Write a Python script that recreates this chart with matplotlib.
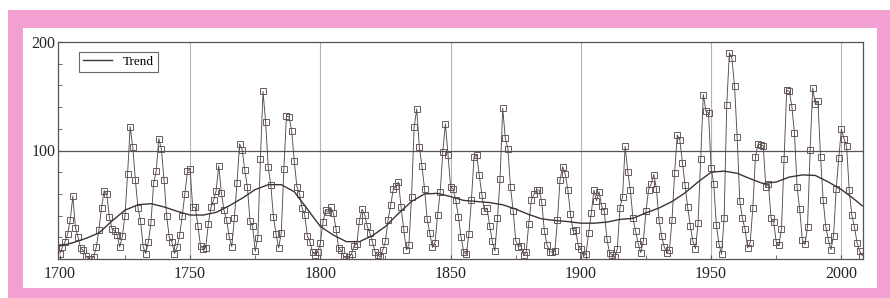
import matplotlib
matplotlib.use("Agg")
from matplotlib import pyplot as plt
from matplotlib.patches import Rectangle
from matplotlib.ticker import MultipleLocator

plt.rcParams['font.family'] = ['Liberation Serif', 'DejaVu Serif']

# yearly sunspot numbers 1700-2008
years = list(range(1700, 2009))
sunspots = [
    5.0, 11.0, 16.0, 23.0, 36.0, 58.0, 29.0, 20.0, 10.0, 8.0,
    3.0, 0.0, 0.0, 2.0, 11.0, 27.0, 47.0, 63.0, 60.0, 39.0,
    28.0, 26.0, 22.0, 11.0, 21.0, 40.0, 78.0, 122.0, 103.0, 73.0,
    47.0, 35.0, 11.0, 5.0, 16.0, 34.0, 70.0, 81.0, 111.0, 101.0,
    73.0, 40.0, 20.0, 16.0, 5.0, 11.0, 22.0, 40.0, 60.0, 80.9,
    83.4, 47.7, 47.8, 30.7, 12.2, 9.6, 10.2, 32.4, 47.6, 54.0,
    62.9, 85.9, 61.2, 45.1, 36.4, 20.9, 11.4, 37.8, 69.8, 106.1,
    100.8, 81.6, 66.5, 34.8, 30.6, 7.0, 19.8, 92.5, 154.4, 125.9,
    84.8, 68.1, 38.5, 22.8, 10.2, 24.1, 82.9, 132.0, 130.9, 118.1,
    89.9, 66.6, 60.0, 46.9, 41.0, 21.3, 16.0, 6.4, 4.1, 6.8,
    14.5, 34.0, 45.0, 43.1, 47.5, 42.2, 28.1, 10.1, 8.1, 2.5,
    0.0, 1.4, 5.0, 12.2, 13.9, 35.4, 45.8, 41.0, 30.1, 23.9,
    15.6, 6.6, 4.0, 1.8, 8.5, 16.6, 36.3, 49.6, 64.2, 67.0,
    70.9, 47.8, 27.5, 8.5, 13.2, 56.9, 121.5, 138.3, 103.2, 85.7,
    64.6, 36.7, 24.2, 10.7, 15.0, 40.1, 61.5, 98.5, 124.7, 96.3,
    66.6, 64.5, 54.1, 39.0, 20.6, 6.7, 4.3, 22.7, 54.8, 93.8,
    95.8, 77.2, 59.1, 44.0, 47.0, 30.5, 16.3, 7.3, 37.6, 74.0,
    139.0, 111.2, 101.6, 66.2, 44.7, 17.0, 11.3, 12.4, 3.4, 6.0,
    32.3, 54.3, 59.7, 63.7, 63.5, 52.2, 25.4, 13.1, 6.8, 6.3,
    7.1, 35.6, 73.0, 85.1, 78.0, 64.0, 41.8, 26.2, 26.7, 12.1,
    9.5, 2.7, 5.0, 24.4, 42.0, 63.5, 53.8, 62.0, 48.5, 43.9,
    18.6, 5.7, 3.6, 1.4, 9.6, 47.4, 57.1, 103.9, 80.6, 63.6,
    37.6, 26.1, 14.2, 5.8, 16.7, 44.3, 63.9, 69.0, 77.8, 64.9,
    35.7, 21.2, 11.1, 5.7, 8.7, 36.1, 79.7, 114.4, 109.6, 88.8,
    67.8, 47.5, 30.6, 16.3, 9.6, 33.2, 92.6, 151.6, 136.3, 134.7,
    83.9, 69.4, 31.5, 13.9, 4.4, 38.0, 141.7, 190.2, 184.8, 159.0,
    112.3, 53.9, 37.6, 27.9, 10.2, 15.1, 47.0, 93.8, 105.9, 105.5,
    104.5, 66.6, 68.9, 38.0, 34.5, 15.5, 12.6, 27.5, 92.5, 155.4,
    154.6, 140.4, 115.9, 66.6, 45.9, 17.9, 13.4, 29.4, 100.2, 157.6,
    142.6, 145.7, 94.3, 54.6, 29.9, 17.5, 8.6, 21.5, 64.3, 93.3,
    119.6, 111.0, 104.0, 63.7, 40.4, 29.8, 15.2, 7.5, 2.9,
]

# trend curve
trend_years = [1700, 1705, 1710, 1715, 1720, 1725, 1730, 1735, 1740, 1745,
               1750, 1755, 1760, 1765, 1770, 1775, 1780, 1785, 1790, 1795,
               1800, 1805, 1810, 1815, 1820, 1825, 1830, 1835, 1840, 1845,
               1850, 1855, 1860, 1865, 1870, 1875, 1880, 1885, 1890, 1895,
               1900, 1905, 1910, 1915, 1920, 1925, 1930, 1935, 1940, 1945,
               1950, 1955, 1960, 1965, 1970, 1975, 1980, 1985, 1990, 1995,
               2000, 2005, 2008]
trend = [12, 15, 19, 24, 35, 45, 50, 51, 48, 44,
         40.5, 40.5, 43, 49, 56, 64, 68.5, 68.5, 62, 46,
         30, 22, 16, 16, 21.5, 30, 42, 53, 60, 60.5,
         57.5, 54, 53, 52, 50, 46, 41, 37, 35.5, 34.5,
         33, 33, 34, 36.5, 37.5, 42.5, 47, 53, 61, 71,
         80, 81, 79, 74, 69.5, 71, 75.5, 77.5, 77, 71,
         64, 55, 49]

W, H = 890, 298
fig = plt.figure(figsize=(W / 100, H / 100), dpi=100, facecolor='white')

# pink frame + white panel (kept behind the axes)
fig.patches.append(Rectangle((8 / W, 0), 1 - 8 / W, 1 - 10 / H,
                             transform=fig.transFigure, facecolor='#f29fd1',
                             edgecolor='none', zorder=-10))
fig.patches.append(Rectangle((23 / W, 10 / H), (877 - 23) / W, (288 - 28) / H,
                             transform=fig.transFigure, facecolor='white',
                             edgecolor='none', zorder=-9))

ax = fig.add_axes([58 / W, (H - 259) / H, (863 - 58) / W, (259 - 42) / H])
ax.set_facecolor('white')

line_col = '#564a4a'
ax.plot(years, sunspots, color=line_col, lw=0.65, marker='s', ms=5,
        mfc='none', mec='#5e5050', mew=0.65, zorder=3)
ax.plot(trend_years, trend, color='#3d3333', lw=1.0, label='Trend', zorder=4)

ax.set_xlim(1699.3, 2008.3)
ax.set_ylim(0, 200)

for yr in [1750, 1800, 1850, 1900, 1950, 2000]:
    ax.axvline(yr, color='#b8b0b8', lw=0.8, zorder=1)
ax.axhline(100, color='#5a5060', lw=0.9, zorder=1)

ax.set_yticks([100, 200])
ax.yaxis.set_minor_locator(MultipleLocator(20))
ax.set_xticks([1700, 1750, 1800, 1850, 1900, 1950, 2000])
ax.xaxis.set_minor_locator(MultipleLocator(25))
ax.tick_params(which='both', direction='in', color='#5a5050', labelsize=11.5,
               labelcolor='#2a2222')
ax.tick_params(which='major', length=3)
ax.tick_params(which='minor', length=3)
ax.tick_params(axis='x', pad=5)
ax.tick_params(axis='y', pad=2)

for s in ax.spines.values():
    s.set_color('#5a5050')
    s.set_linewidth(0.9)

leg = ax.legend(loc='upper left', fontsize=9.5, frameon=True, fancybox=False,
                handlelength=2.2, borderpad=0.3, bbox_to_anchor=(0.018, 0.985))
leg.get_frame().set_edgecolor('#4a4040')
leg.get_frame().set_linewidth(0.8)

ax.set_zorder(1)
fig.savefig('out.png', dpi=100, facecolor=fig.get_facecolor())
